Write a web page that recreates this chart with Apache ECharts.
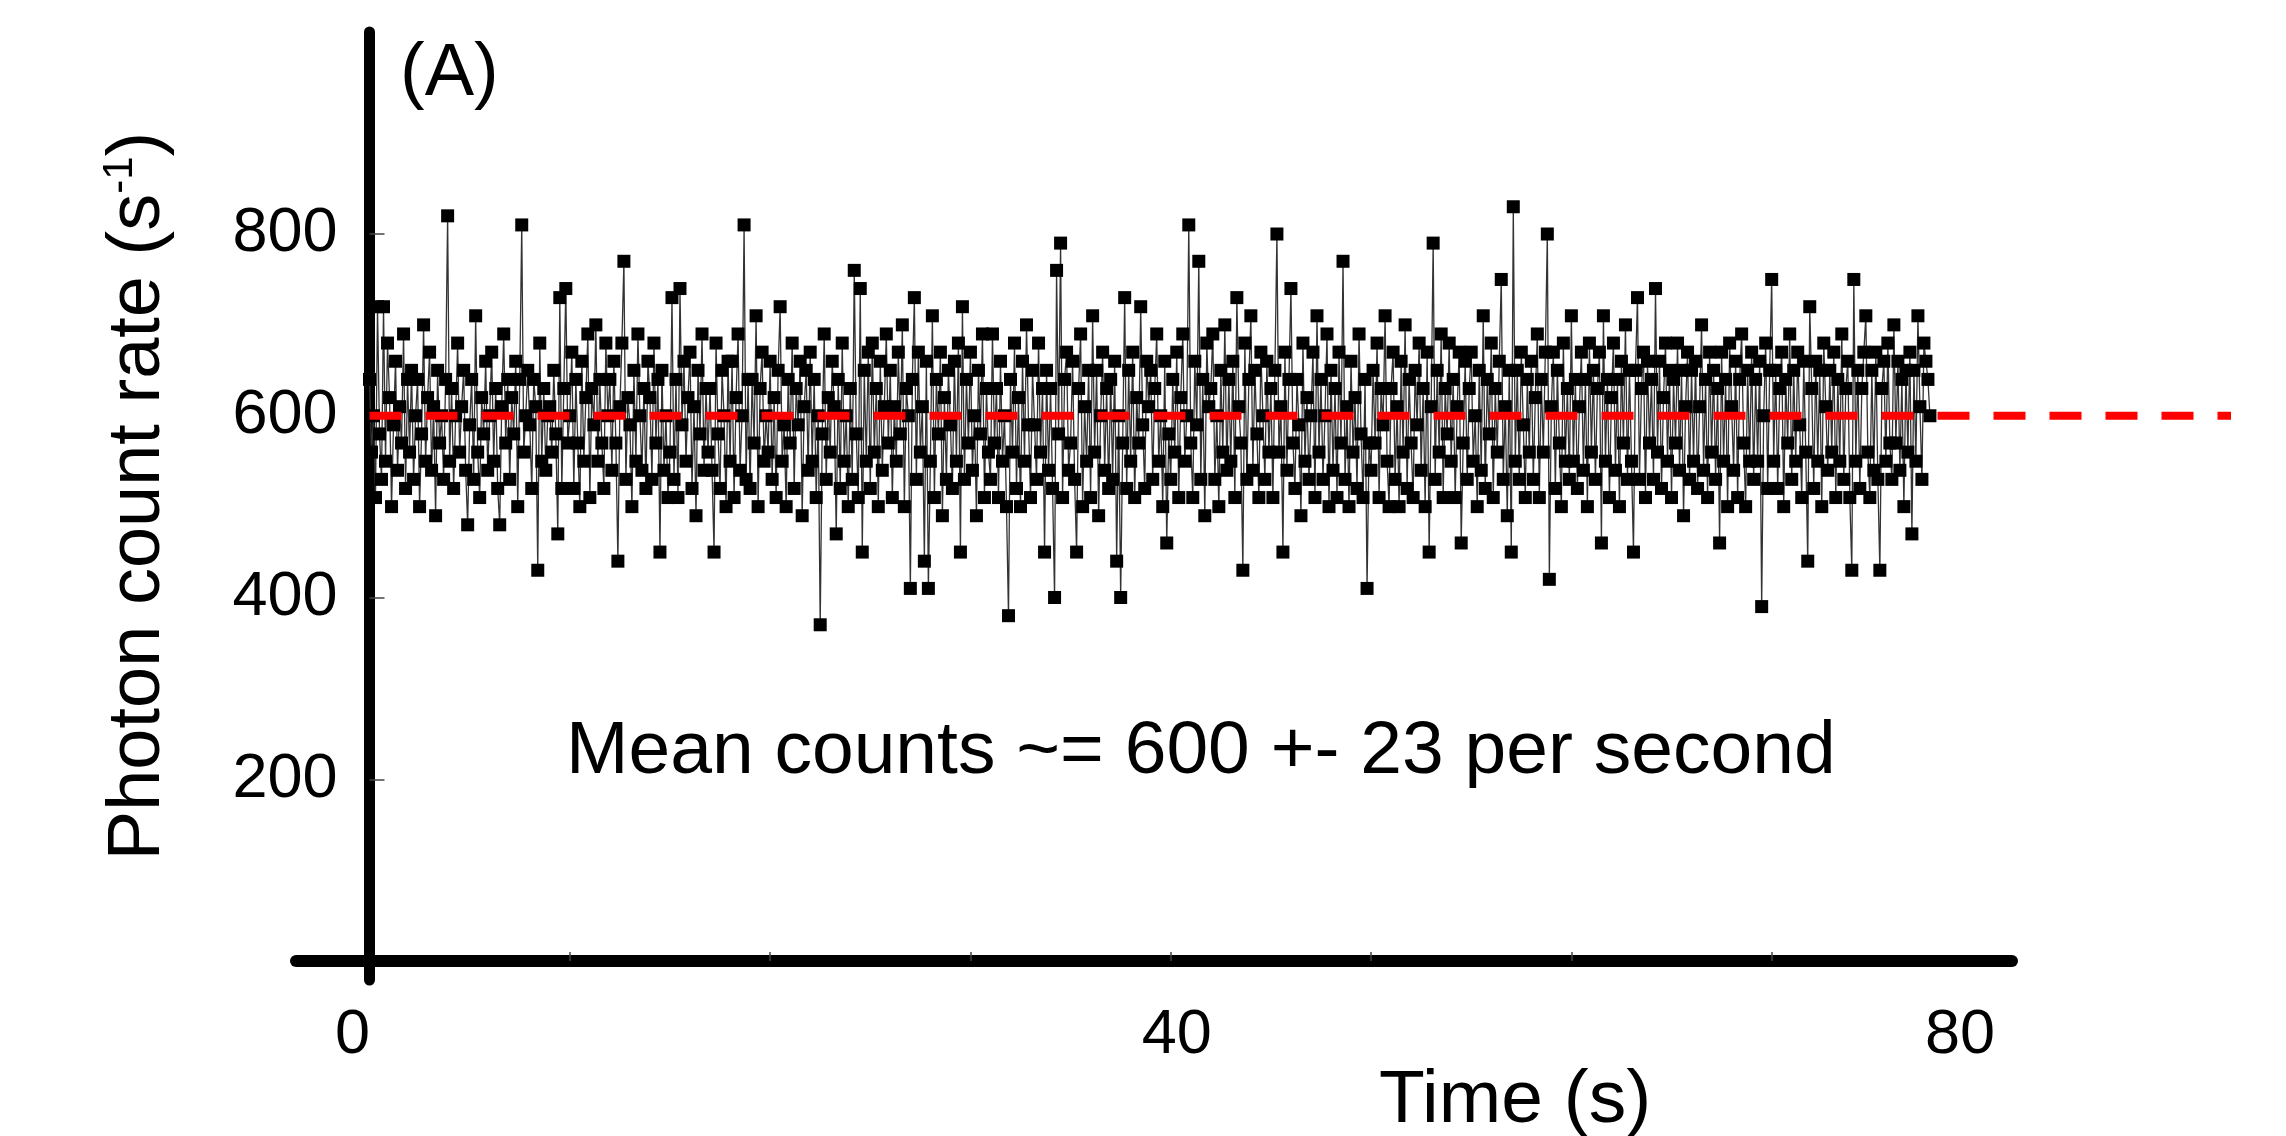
<!DOCTYPE html>
<html>
<head>
<meta charset="utf-8">
<script src="https://cdn.jsdelivr.net/npm/echarts@6/dist/echarts.min.js"></script>
<style>
html,body{margin:0;padding:0;background:#fff;}
#chart{width:2286px;height:1136px;}
</style>
</head>
<body>
<div id="chart"></div>
<script>
// ---- data ----
const timeStep = 0.1; // seconds per bin
const counts = [
640,560,600,510,720,580,530,720,550,680,
620,500,590,660,540,610,570,690,520,640,
560,650,530,600,640,500,580,700,550,620,
670,540,610,490,650,570,600,530,640,820,
550,630,520,600,680,560,610,650,540,480,
590,640,530,710,560,510,620,580,660,540,
600,670,550,630,520,480,610,690,570,640,
530,620,580,660,500,640,810,560,600,650,
590,520,640,610,430,680,550,630,540,600,
610,560,650,580,470,730,520,630,740,570,
600,670,520,640,570,500,660,550,620,690,
510,630,590,700,550,640,570,520,680,600,
640,540,660,570,440,610,680,770,530,620,
590,500,650,550,690,600,540,630,520,660,
620,530,680,570,640,450,650,540,600,510,
560,730,530,640,510,740,590,660,550,620,
670,520,610,490,650,580,690,540,630,560,
630,540,450,680,580,520,650,600,500,660,
550,660,510,620,690,540,600,810,530,640,
520,640,570,710,500,630,670,550,600,560,
660,530,620,510,650,720,550,590,500,640,
570,680,520,630,590,660,490,610,650,540,
670,550,640,510,600,370,580,690,530,620,
560,660,610,470,640,520,680,550,600,500,
630,530,760,580,510,740,450,650,550,670,
520,680,560,630,500,660,540,610,690,570,
650,510,610,550,670,580,700,500,630,600,
410,640,730,530,670,560,610,440,660,410,
550,710,510,640,580,670,490,620,530,650,
590,520,660,550,680,450,720,530,640,570,
670,540,600,490,650,580,690,510,630,560,
530,690,570,630,510,660,550,600,500,380,
640,560,680,520,620,500,660,550,700,590,
510,650,590,530,680,560,630,450,650,540,
630,520,400,760,580,790,510,640,670,540,
570,660,530,450,630,690,500,610,550,650,
510,710,560,650,490,600,670,540,630,520,
640,530,660,440,600,400,570,730,520,650,
550,670,510,620,570,720,590,520,660,610,
650,530,630,690,550,600,500,660,460,580,
530,640,560,670,510,620,690,550,600,810,
570,510,660,590,770,530,640,490,680,610,
630,690,530,600,500,650,560,700,540,640,
550,660,510,730,610,570,430,680,530,640,
710,540,650,580,510,670,600,530,660,560,
630,510,650,800,560,610,450,670,540,640,
740,570,520,640,590,490,680,550,620,530,
600,670,510,710,560,640,530,600,690,500,
650,540,630,510,670,570,770,530,610,500,
660,560,620,520,690,580,510,640,410,570,
540,650,570,680,510,630,590,710,550,500,
630,670,530,610,500,660,560,700,520,640,
570,510,650,590,680,540,630,500,670,450,
610,790,530,650,560,690,510,630,580,680,
550,640,510,610,670,460,570,660,530,630,
670,550,600,500,650,540,710,520,640,580,
680,510,630,560,660,750,530,610,490,650,
450,830,550,650,530,670,590,510,640,560,
660,530,620,690,510,640,560,670,800,420,
610,670,520,650,570,500,680,550,630,530,
710,550,640,520,610,670,540,640,500,680,
560,650,530,630,670,460,710,550,640,510,
620,680,540,640,500,660,570,700,530,650,
550,450,650,730,530,630,670,510,660,570,
640,530,740,560,660,520,620,680,550,650,
510,640,570,680,540,650,490,610,670,530,
650,550,660,520,610,700,540,640,510,670,
560,650,530,630,460,670,550,640,500,680,
610,540,660,510,640,690,570,500,650,550,
670,530,640,550,660,390,600,680,520,650,
750,550,650,520,630,670,500,640,570,690,
530,650,550,670,590,510,660,560,440,720,
630,520,660,550,650,500,680,610,540,650,
560,670,510,640,550,690,530,630,660,510,
430,750,550,650,520,630,670,710,560,510,
650,540,670,530,430,630,660,550,680,570,
530,700,570,660,540,640,500,650,560,670,
470,650,550,710,610,530,680,660,640,600
];
const meanRate = 600;          // mean count rate (s^-1)
const meanLineEnd = 92.93;     // time (s) where the dashed mean line stops
const xLabelValues = [0, 40, 80];
const xTickValues = [10, 20, 30, 40, 50, 60, 70];
const yLabelValues = [200, 400, 600, 800];

const seriesData = counts.map((c, i) => [Math.round(i * timeStep * 10) / 10, c]);

const FONT = '"Liberation Sans", Arial, Helvetica, sans-serif';
const chart = echarts.init(document.getElementById('chart'), null, {renderer: 'canvas'});

const xLabelRich = {0: '{l|0}', 40: '{r|40}', 80: '{m|80}'};

chart.setOption({
  animation: false,
  backgroundColor: '#ffffff',
  grid: [
    // plotting grid: y axis at its left edge, extends right so the mean line can run past the x axis end
    {left: 369.5, right: 55, top: 32, bottom: 156, containLabel: false},
    // axis grid: carries the long x axis that sticks out left of the y axis
    {left: 296, right: 274, top: 32, bottom: 175, containLabel: false}
  ],
  xAxis: [
    {
      gridIndex: 0, type: 'value', min: 0, max: meanLineEnd,
      axisLine: {show: false}, axisTick: {show: false}, axisLabel: {show: false},
      splitLine: {show: false}
    },
    {
      gridIndex: 1, type: 'value', min: -3.67, max: 82.0,
      axisLine: {onZero: false, lineStyle: {color: '#000', width: 12}},
      axisTick: {show: true, inside: true, length: 9, customValues: xTickValues,
                 lineStyle: {color: '#444', width: 1.5}},
      axisLabel: {
        customValues: xLabelValues,
        margin: 43,
        color: '#000',
        fontFamily: FONT,
        fontSize: 63,
        formatter: v => xLabelRich[v] || String(v),
        rich: {
          l: {fontFamily: FONT, fontSize: 63, color: '#000', padding: [0, 34, 0, 0]},
          r: {fontFamily: FONT, fontSize: 63, color: '#000', padding: [0, 0, 0, 12]},
          m: {fontFamily: FONT, fontSize: 63, color: '#000', padding: [0, 24, 0, 0]}
        }
      },
      splitLine: {show: false}
    }
  ],
  yAxis: [
    {
      gridIndex: 0, type: 'value', min: -20.9, max: 1022.3,
      axisLine: {onZero: false, lineStyle: {color: '#000', width: 11}},
      axisTick: {show: true, inside: true, length: 15, customValues: yLabelValues,
                 lineStyle: {color: '#444', width: 1.5}},
      axisLabel: {
        customValues: yLabelValues,
        margin: 32,
        color: '#000',
        fontFamily: FONT,
        fontSize: 63
      },
      splitLine: {show: false}
    },
    {
      gridIndex: 1, type: 'value', min: 0, max: 1, show: false
    }
  ],
  series: [
    {
      name: 'counts',
      type: 'line',
      xAxisIndex: 0, yAxisIndex: 0,
      data: seriesData,
      symbol: 'rect',
      symbolSize: 13,
      showAllSymbol: true,
      itemStyle: {color: '#000'},
      lineStyle: {color: '#333', width: 1.3},
      z: 3
    },
    {
      name: 'mean',
      type: 'line',
      xAxisIndex: 0, yAxisIndex: 0,
      data: [[0, meanRate], [meanLineEnd, meanRate]],
      symbol: 'none',
      lineStyle: {color: '#ff0000', width: 8, type: [32, 24]},
      z: 5
    }
  ],
  graphic: [
    {
      type: 'text', left: 400, top: 38,
      style: {text: '(A)', font: '74px ' + FONT, fill: '#000'}
    },
    {
      type: 'text', x: 566, y: 752,
      style: {text: 'Mean counts ~= 600 +- 23 per second', font: '75px ' + FONT, fill: '#000',
              align: 'left', verticalAlign: 'middle', textAlign: 'left', textVerticalAlign: 'middle'}
    },
    {
      type: 'text', x: 1379, y: 1101,
      style: {text: 'Time (s)', font: '75px ' + FONT, fill: '#000',
              align: 'left', verticalAlign: 'middle', textAlign: 'left', textVerticalAlign: 'middle'}
    },
    {
      type: 'text', x: 139, y: 496, rotation: Math.PI / 2,
      style: {
        text: '{m|Photon count rate (s}{s|-1}{m|)}',
        align: 'center', verticalAlign: 'middle', textAlign: 'center', textVerticalAlign: 'middle',
        rich: {
          m: {fontFamily: FONT, fontSize: 74, lineHeight: 80, color: '#000'},
          s: {fontFamily: FONT, fontSize: 42, lineHeight: 52, color: '#000', verticalAlign: 'top'}
        }
      }
    }
  ]
});
</script>
</body>
</html>
